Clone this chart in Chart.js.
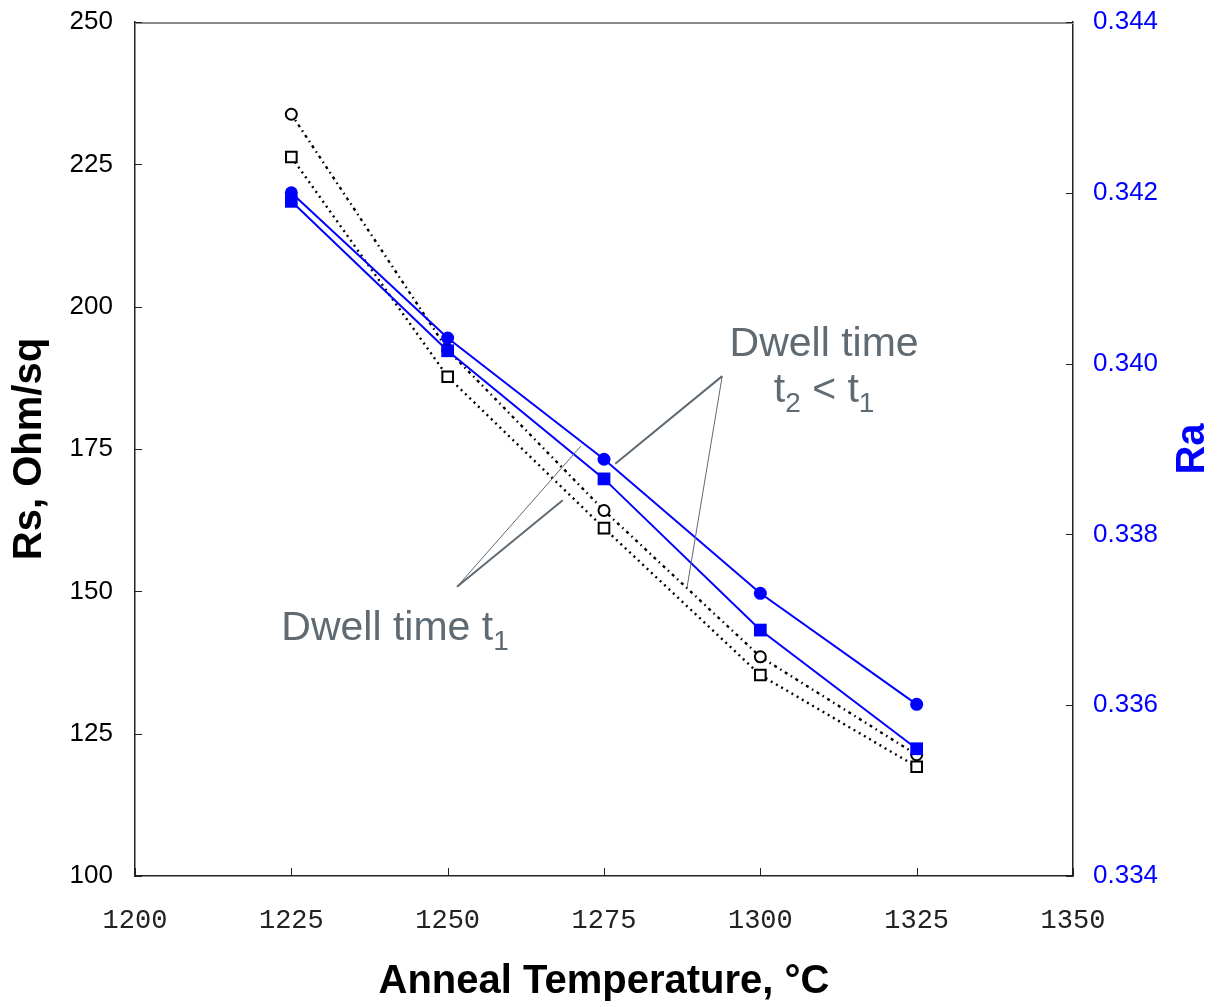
<!DOCTYPE html>
<html>
<head>
<meta charset="utf-8">
<script src="https://cdn.jsdelivr.net/npm/chart.js@4.4.1/dist/chart.umd.min.js"></script>
<style>
  html, body { margin: 0; padding: 0; background: #fff; }
  #wrap { width: 1224px; height: 1007px; position: relative; }
</style>
</head>
<body>
<div id="wrap"><canvas id="rsChart"></canvas></div>
<script>
// anneal temperatures (°C)
const temps = [1225, 1250, 1275, 1300, 1325];

// sheet resistance, Ohm/sq (left axis)
const rsShort = [233.8, 192.4, 164.2, 138.5, 121.3];   // open circles, dwell t2
const rsLong  = [226.3, 187.7, 161.1, 135.3, 119.2];   // open squares, dwell t1

// Ra (right axis)
const raShort = [0.34200, 0.34030, 0.33888, 0.33731, 0.33601]; // filled circles
const raLong  = [0.34190, 0.34015, 0.33865, 0.33688, 0.33549]; // filled squares

// axis ticks
const xTicks = [1200, 1225, 1250, 1275, 1300, 1325, 1350];
const rsTicks = [100, 125, 150, 175, 200, 225, 250];
const raTicks = [0.334, 0.336, 0.338, 0.340, 0.342, 0.344];

// callout leaders, in [temperature, Rs] units
const calloutT1 = { apex: [1251.5, 150.8], ends: [[1271.3, 175.5], [1268.4, 166.0]], widths: [1, 2] };
const calloutT2 = { apex: [1293.9, 187.8], ends: [[1276.8, 172.4], [1288.3, 150.8]], widths: [2, 1] };

const toPoints = (ys) => temps.map((t, i) => ({ x: t, y: ys[i] }));

const GREY = '#5f6a72';
const AXIS = '#222';

// short tick marks pointing into the plot + grey top frame
const frameTicks = {
  id: 'frameTicks',
  afterDraw(chart) {
    const { ctx, chartArea: a, scales } = chart;
    ctx.save();
    ctx.strokeStyle = '#8a8a8a';
    ctx.lineWidth = 2;
    ctx.beginPath(); ctx.moveTo(a.left, a.top + 1); ctx.lineTo(a.right, a.top + 1); ctx.stroke();

    ctx.strokeStyle = AXIS;
    ctx.lineWidth = 1;
    ctx.beginPath();
    rsTicks.forEach(v => {
      const py = Math.round(scales.y.getPixelForValue(v)) + 0.5;
      ctx.moveTo(a.left, py); ctx.lineTo(a.left + 7, py);
    });
    raTicks.forEach(v => {
      const py = Math.round(scales.y2.getPixelForValue(v)) + 0.5;
      ctx.moveTo(a.right, py); ctx.lineTo(a.right - 7, py);
    });
    xTicks.forEach(v => {
      const px = Math.round(scales.x.getPixelForValue(v)) + 0.5;
      ctx.moveTo(px, a.bottom); ctx.lineTo(px, a.bottom - 8);
    });
    ctx.stroke();

    // right axis title, reading bottom to top
    ctx.fillStyle = '#0000ff';
    ctx.font = 'bold 40px "Liberation Sans", Arial, sans-serif';
    ctx.translate(1193, (a.top + a.bottom) / 2);
    ctx.rotate(-Math.PI / 2);
    ctx.textAlign = 'center';
    ctx.textBaseline = 'middle';
    ctx.fillText('Ra', 0, 0);
    ctx.restore();
  }
};

// "Dwell time" callouts
const callouts = {
  id: 'callouts',
  afterDatasetsDraw(chart) {
    const { ctx, scales: { x, y } } = chart;
    const px = (p) => [x.getPixelForValue(p[0]), y.getPixelForValue(p[1])];
    ctx.save();
    ctx.strokeStyle = GREY;
    [calloutT1, calloutT2].forEach(c => {
      const [ax, ay] = px(c.apex);
      c.ends.forEach((e, i) => {
        const [ex, ey] = px(e);
        ctx.lineWidth = c.widths[i];
        ctx.beginPath(); ctx.moveTo(ax, ay); ctx.lineTo(ex, ey); ctx.stroke();
      });
    });

    ctx.fillStyle = GREY;
    ctx.textBaseline = 'alphabetic';
    const big = '41px "Liberation Sans", Arial, sans-serif';
    const sub = '28px "Liberation Sans", Arial, sans-serif';

    // helper: text with a subscript digit
    const withSub = (parts, left, base) => {
      let cx = left;
      parts.forEach(([txt, isSub]) => {
        ctx.font = isSub ? sub : big;
        ctx.fillText(txt, cx, base + (isSub ? 10 : 0));
        cx += ctx.measureText(txt).width;
      });
      return cx - left;
    };
    const measure = (parts) => parts.reduce((w, [txt, isSub]) => {
      ctx.font = isSub ? sub : big; return w + ctx.measureText(txt).width;
    }, 0);

    // Dwell time t1
    const [l1x, l1y] = px([1223.4, 141.4]);
    withSub([['Dwell time t', false], ['1', true]], l1x, l1y);

    // Dwell time / t2 < t1
    const [cx2, b2] = px([1310.2, 191.4]);
    ctx.font = big;
    ctx.textAlign = 'center';
    ctx.fillText('Dwell time', cx2, b2);
    ctx.textAlign = 'left';
    const line2 = [['t', false], ['2', true], [' < t', false], ['1', true]];
    const [, b3] = px([0, 183.3]);
    withSub(line2, cx2 - measure(line2) / 2, b3);
    ctx.restore();
  }
};

// fixed axis box sizes, no extra label overflow padding
const fitY = (w) => (s) => { s.width = w; s.paddingTop = 0; s.paddingBottom = 0; };

const ctx = document.getElementById('rsChart').getContext('2d');
window.rsChartInstance = new Chart(ctx, {
  type: 'line',
  data: {
    datasets: [
      {
        label: 'Ra, t2', data: toPoints(raShort), yAxisID: 'y2',
        borderColor: '#0000ff', borderWidth: 2, backgroundColor: '#0000ff',
        pointStyle: 'circle', pointRadius: 6.5, pointBorderWidth: 0
      },
      {
        label: 'Ra, t1', data: toPoints(raLong), yAxisID: 'y2',
        borderColor: '#0000ff', borderWidth: 2, backgroundColor: '#0000ff',
        pointStyle: 'rect', pointRadius: 9, pointBorderWidth: 0
      },
      {
        label: 'Rs, t2', data: toPoints(rsShort), yAxisID: 'y',
        borderColor: '#000', borderWidth: 2.4, borderDash: [3, 4, 1.5, 4],
        pointStyle: 'circle', pointRadius: 5.5, pointBorderWidth: 2,
        pointBorderColor: '#000', pointBackgroundColor: '#fff'
      },
      {
        label: 'Rs, t1', data: toPoints(rsLong), yAxisID: 'y',
        borderColor: '#000', borderWidth: 2.4, borderDash: [2, 4],
        pointStyle: 'rect', pointRadius: 7.5, pointBorderWidth: 2,
        pointBorderColor: '#000', pointBackgroundColor: '#fff'
      }
    ]
  },
  options: {
    responsive: true,
    maintainAspectRatio: false,
    animation: false,
    layout: { padding: { top: 22, left: 0, right: 0, bottom: 0 } },
    plugins: { legend: { display: false }, tooltip: { enabled: false } },
    scales: {
      x: {
        type: 'linear', min: 1200, max: 1350,
        afterFit: (s) => { s.height = 131; },
        afterBuildTicks: (s) => { s.ticks = xTicks.map(v => ({ value: v })); },
        grid: { display: false },
        border: { display: true, color: AXIS, width: 1.5 },
        ticks: {
          padding: 21, color: AXIS, maxRotation: 0,
          font: { family: '"Liberation Mono", "Courier New", monospace', size: 27 },
          callback: (v) => String(v)
        },
        title: {
          display: true, text: 'Anneal Temperature, °C', color: '#000',
          padding: { top: 0, bottom: 1 },
          font: { family: '"Liberation Sans", Arial, sans-serif', size: 40, weight: 'bold' }
        }
      },
      y: {
        position: 'left', min: 100, max: 250,
        afterFit: fitY(135),
        afterBuildTicks: (s) => { s.ticks = rsTicks.map(v => ({ value: v })); },
        grid: { display: false },
        border: { display: true, color: AXIS, width: 1.5 },
        ticks: {
          padding: 14, color: '#000',
          font: { family: '"Liberation Sans", Arial, sans-serif', size: 26 }
        },
        title: {
          display: true, text: 'Rs, Ohm/sq', color: '#000',
          padding: { top: 6, bottom: 0 },
          font: { family: '"Liberation Sans", Arial, sans-serif', size: 40, weight: 'bold' }
        }
      },
      y2: {
        position: 'right', min: 0.334, max: 0.344,
        afterFit: fitY(151),
        afterBuildTicks: (s) => { s.ticks = raTicks.map(v => ({ value: v })); },
        grid: { display: false },
        border: { display: true, color: AXIS, width: 1.5 },
        ticks: {
          padding: 12, color: '#0000ff',
          font: { family: '"Liberation Sans", Arial, sans-serif', size: 26 },
          callback: (v) => v.toFixed(3)
        }
      }
    }
  },
  plugins: [frameTicks, callouts]
});
</script>
</body>
</html>
